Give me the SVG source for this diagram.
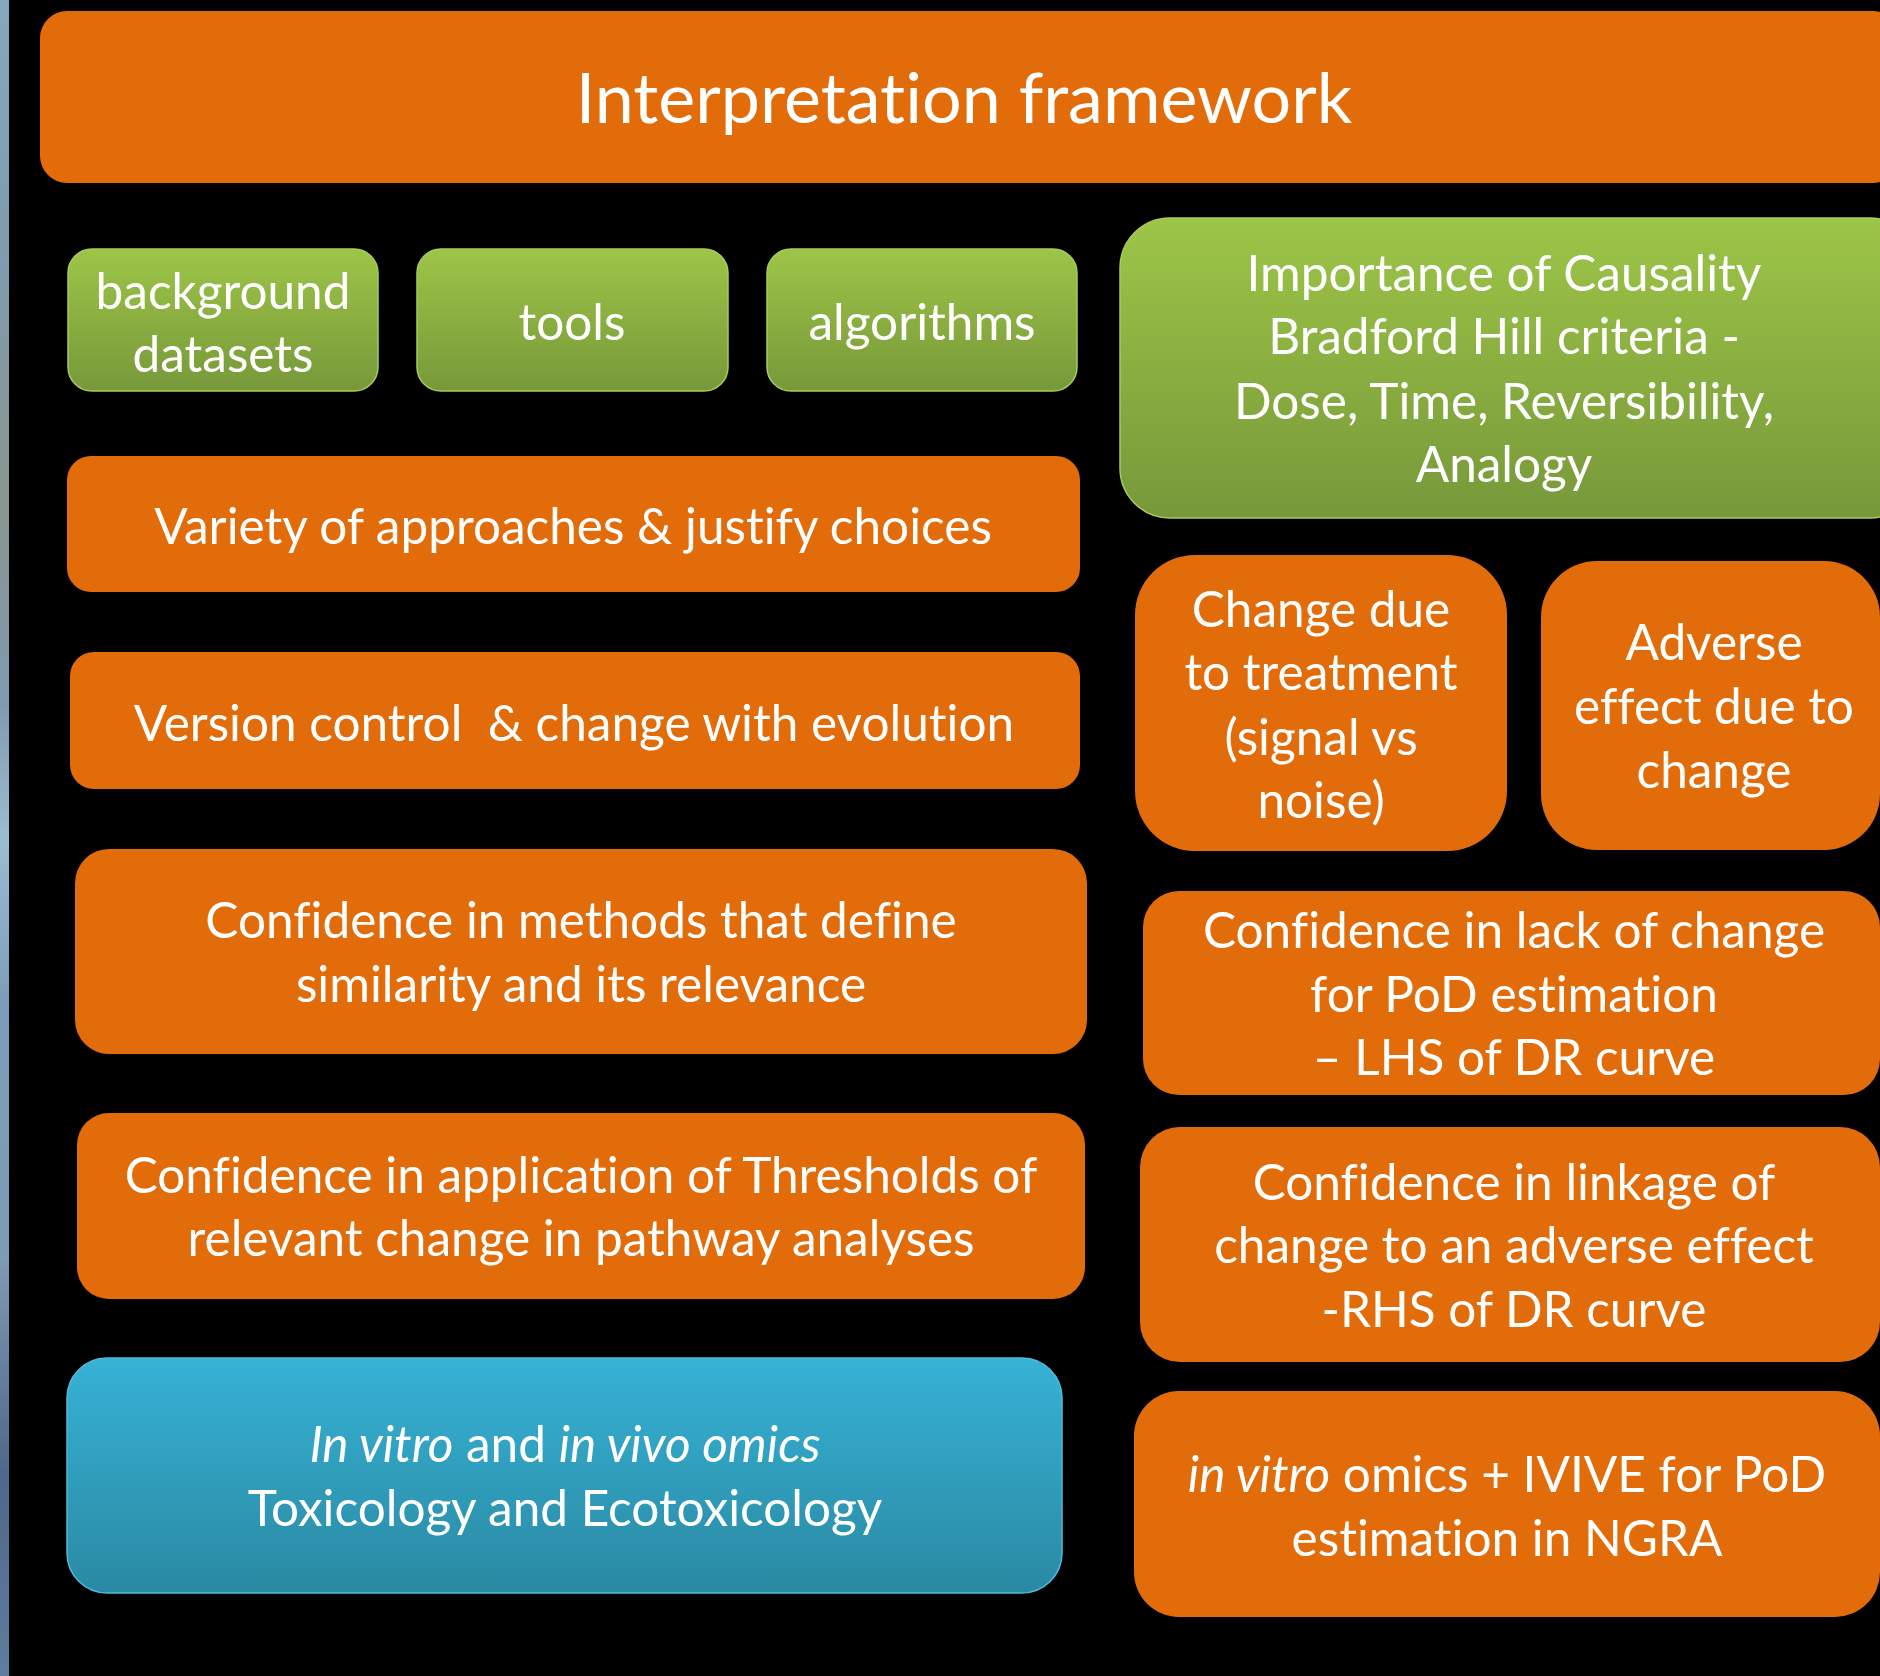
<svg xmlns="http://www.w3.org/2000/svg" width="1880" height="1676" viewBox="0 0 1880 1676">
<style>
.t{font-family:Lato,"Open Sans","Liberation Sans",sans-serif;fill:#fff;text-anchor:middle;font-size:49.5px;font-variant-ligatures:none;font-feature-settings:"liga" 0}
.title{font-size:70px}
.o{fill:#e36c0a}
.g{fill:url(#gg);stroke:#a6cc5a;stroke-width:1.5}
.b{fill:url(#bg);stroke:#4fbbdc;stroke-width:1.5}
.i{font-style:italic}
</style>
<defs>
<linearGradient id="gg" x1="0" y1="0" x2="0" y2="1"><stop offset="0" stop-color="#9dc547"/><stop offset="1" stop-color="#77983a"/></linearGradient>
<linearGradient id="bg" x1="0" y1="0" x2="0" y2="1"><stop offset="0" stop-color="#36b2d6"/><stop offset="1" stop-color="#2a89a2"/></linearGradient>
<linearGradient id="strip" x1="0" y1="0" x2="0" y2="1">
<stop offset="0" stop-color="#86a7bd"/><stop offset="0.15" stop-color="#7f9cae"/><stop offset="0.3" stop-color="#8a9690"/><stop offset="0.42" stop-color="#7f9ab0"/><stop offset="0.5" stop-color="#9cbcd2"/><stop offset="0.6" stop-color="#7c9dba"/><stop offset="0.75" stop-color="#7d9ab6"/><stop offset="0.88" stop-color="#4f6788"/><stop offset="1" stop-color="#5f7d9c"/>
</linearGradient>
</defs>
<rect width="1880" height="1676" fill="#000"/>
<rect x="0" y="0" width="9" height="1676" fill="url(#strip)"/>
<g id="connectors"/>
<g id="title"><rect class="o" x="40" y="11" width="1860" height="172" rx="27"/><text class="t title" x="964" y="123">Interpretation framework</text></g>
<g id="background-datasets"><rect class="g" x="68" y="249" width="310" height="142" rx="24"/><text class="t" x="223" y="309">background</text><text class="t" x="223" y="372">datasets</text></g>
<g id="tools"><rect class="g" x="417" y="249" width="311" height="142" rx="24"/><text class="t" x="572" y="340">tools</text></g>
<g id="algorithms"><rect class="g" x="767" y="249" width="310" height="142" rx="24"/><text class="t" x="922" y="340">algorithms</text></g>
<g id="causality"><rect class="g" x="1120" y="218" width="800" height="300" rx="50"/><text class="t" x="1504" y="291">Importance of Causality</text><text class="t" x="1504" y="354">Bradford Hill criteria -</text><text class="t" x="1504" y="419">Dose, Time, Reversibility,</text><text class="t" x="1504" y="482">Analogy</text></g>
<g id="variety"><rect class="o" x="67" y="456" width="1013" height="136" rx="24"/><text class="t" x="573" y="544">Variety of approaches &amp; justify choices</text></g>
<g id="version"><rect class="o" x="70" y="652" width="1010" height="137" rx="24"/><text class="t" x="574" y="741" xml:space="preserve">Version control  &amp; change with evolution</text></g>
<g id="similarity"><rect class="o" x="75" y="849" width="1012" height="205" rx="34"/><text class="t" x="581" y="938">Confidence in methods that define</text><text class="t" x="581" y="1002">similarity and its relevance</text></g>
<g id="thresholds"><rect class="o" x="77" y="1113" width="1008" height="186" rx="32"/><text class="t" x="581" y="1193">Confidence in application of Thresholds of</text><text class="t" x="581" y="1256">relevant change in pathway analyses</text></g>
<g id="omics"><rect class="b" x="67" y="1358" width="995" height="235" rx="40"/><text class="t" x="565" y="1462"><tspan class="i">In vitro</tspan> and <tspan class="i">in vivo omics</tspan></text><text class="t" x="565" y="1526">Toxicology and Ecotoxicology</text></g>
<g id="change-treatment"><rect class="o" x="1135" y="555" width="372" height="296" rx="60"/><text class="t" x="1321" y="627">Change due</text><text class="t" x="1321" y="690">to treatment</text><text class="t" x="1321" y="755">(signal vs</text><text class="t" x="1321" y="818">noise)</text></g>
<g id="adverse"><rect class="o" x="1541" y="561" width="339" height="289" rx="56"/><text class="t" x="1714" y="660">Adverse</text><text class="t" x="1714" y="724">effect due to</text><text class="t" x="1714" y="788">change</text></g>
<g id="lack-change"><rect class="o" x="1143" y="891" width="737" height="204" rx="36"/><text class="t" x="1514" y="948">Confidence in lack of change</text><text class="t" x="1514" y="1012">for PoD estimation</text><text class="t" x="1514" y="1075">– LHS of DR curve</text></g>
<g id="linkage"><rect class="o" x="1140" y="1127" width="740" height="235" rx="40"/><text class="t" x="1514" y="1200">Confidence in linkage of</text><text class="t" x="1514" y="1263">change to an adverse effect</text><text class="t" x="1514" y="1327">-RHS of DR curve</text></g>
<g id="ivive"><rect class="o" x="1134" y="1391" width="746" height="226" rx="45"/><text class="t" x="1507" y="1492"><tspan class="i">in vitro</tspan> omics + IVIVE for PoD</text><text class="t" x="1507" y="1556">estimation in NGRA</text></g>
</svg>
